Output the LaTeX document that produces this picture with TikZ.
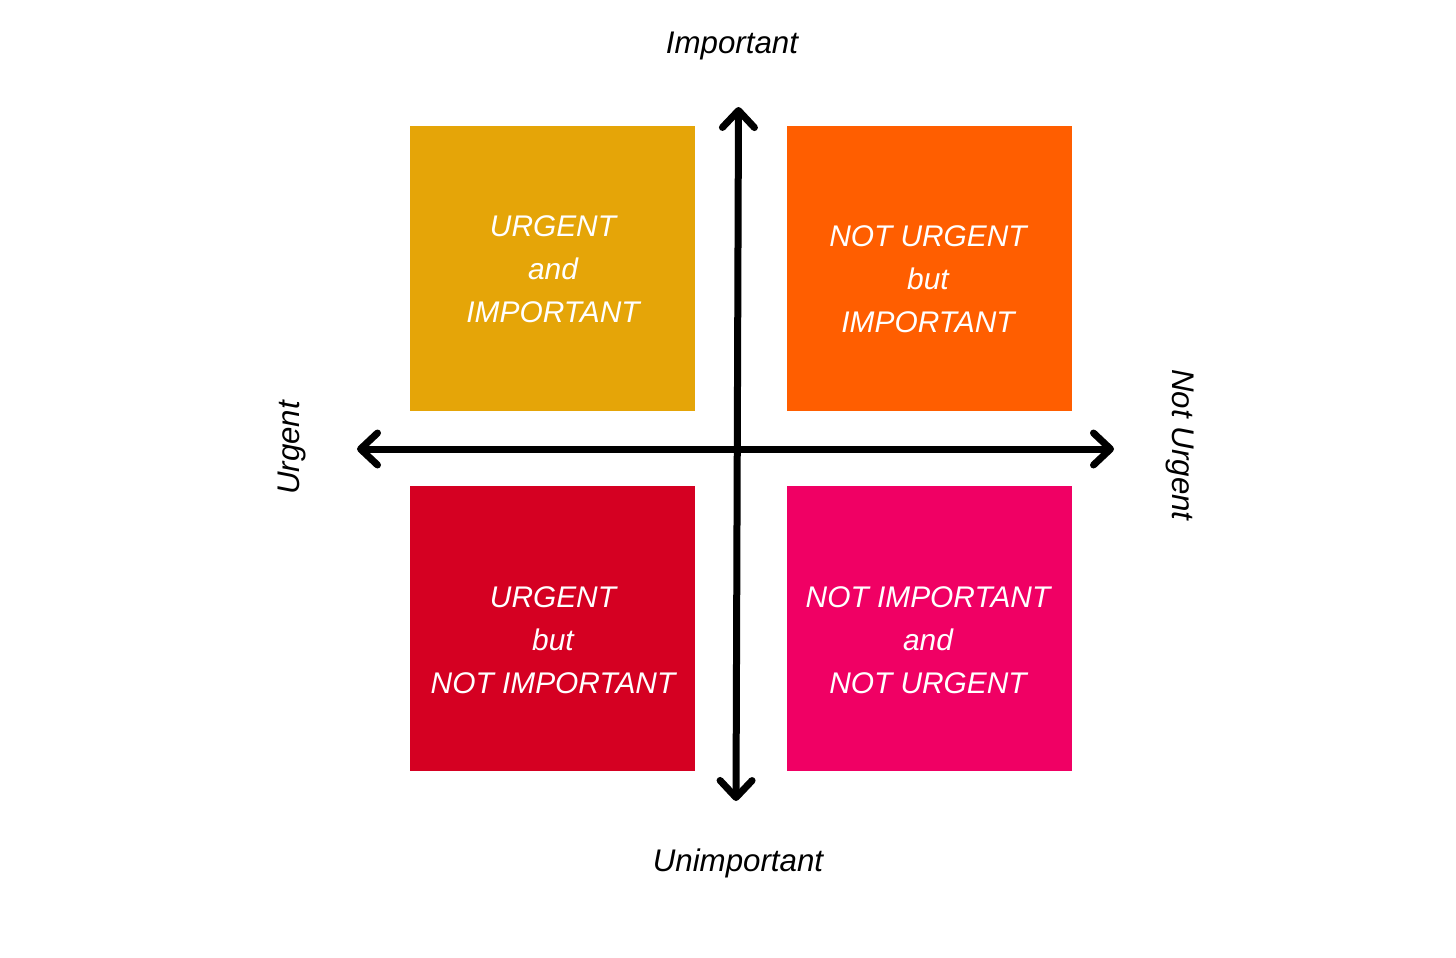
\documentclass[tikz,border=0pt]{standalone}
\usepackage{fontspec}
\setmainfont{Liberation Sans}
\usetikzlibrary{arrows.meta}
\definecolor{cTL}{RGB}{229,165,8}
\definecolor{cTR}{RGB}{255,94,0}
\definecolor{cBL}{RGB}{213,0,34}
\definecolor{cBR}{RGB}{240,0,100}
\tikzset{
  quad/.style={draw=none,minimum width=28.5mm,minimum height=28.5mm,inner sep=0pt,anchor=north west},
  qtext/.style={text=white,align=center,font=\fontsize{8.5}{12.2}\selectfont\itshape},
  axlabel/.style={text=black,font=\fontsize{8.9}{10}\selectfont\itshape,inner sep=0pt},
  axis/.style={line width=0.7mm,line cap=round,{Straight Barb[length=1.7mm,width=3.2mm,line cap=round,line join=round]}-{Straight Barb[length=1.7mm,width=3.2mm,line cap=round,line join=round]}}
}
\begin{document}
\begin{tikzpicture}[x=0.1mm,y=-0.1mm]
\useasboundingbox[fill=white] (0,0) rectangle (1456,957);
\node[quad,fill=cTL] (tl) at (409.5,125.5) {};
\node[quad,fill=cTR] (tr) at (786.5,125.5) {};
\node[quad,fill=cBL] (bl) at (409.5,485.5) {};
\node[quad,fill=cBR] (br) at (786.5,485.5) {};
\node[qtext] (tlt) at (553,269) {URGENT\\and\\IMPORTANT};
\node[qtext] (trt) at (928,279) {NOT URGENT\\but\\IMPORTANT};
\node[qtext] (blt) at (553,640) {URGENT\\but\\NOT IMPORTANT};
\node[qtext] (brt) at (928,640) {NOT IMPORTANT\\and\\NOT URGENT};
\coordinate (top) at (738.5,107);
\coordinate (bot) at (736,801);
\coordinate (left) at (357,449);
\coordinate (right) at (1114,449);
\draw[axis] (left) -- (right);
\draw[axis] (bot) -- (top);
\node[axlabel] (imp) at (732,46) {Important};
\node[axlabel] (unimp) at (738,863) {Unimportant};
\node[axlabel,rotate=90] (urg) at (292,448) {Urgent};
\node[axlabel,rotate=-90] (nurg) at (1180,445) {Not Urgent};
\end{tikzpicture}
\end{document}
